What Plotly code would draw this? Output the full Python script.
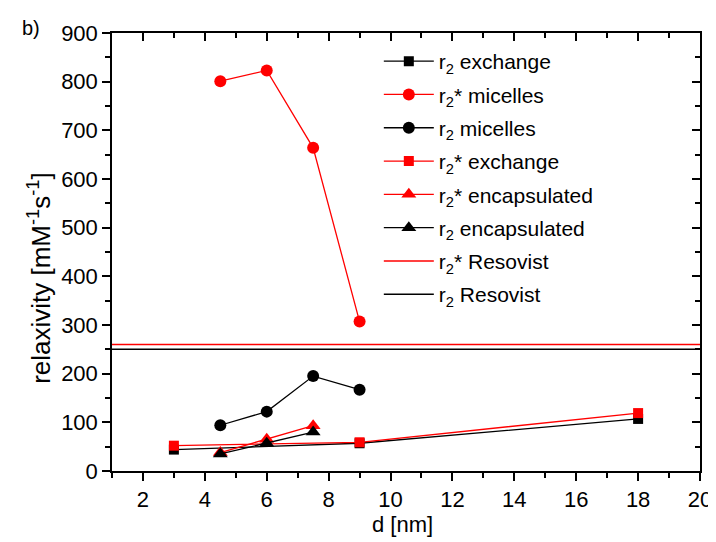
import plotly.graph_objects as go

# ---- data ----
d_exchange = [3, 9, 18]
r2_exchange = [44, 57, 107]
r2s_exchange = [52, 59, 119]

d_micelles = [4.5, 6, 7.5, 9]
r2_micelles = [94, 122, 195, 167]
r2s_micelles = [801, 823, 664, 307]

d_encaps = [4.5, 6, 7.5]
r2_encaps = [35, 57, 80]
r2s_encaps = [38, 65, 93]

d_resovist = [1, 20]
r2_resovist = [250, 250]
r2s_resovist = [260, 260]

x_ticks = [2, 4, 6, 8, 10, 12, 14, 16, 18, 20]
y_ticks = [0, 100, 200, 300, 400, 500, 600, 700, 800, 900]

RED = "#ff0000"
BLACK = "#000000"
FONT = "Liberation Sans, Arial, sans-serif"
TICKSIZE = 22

fig = go.Figure()

def add(x, y, name, color, symbol, size, mode="lines+markers", width=1.3, grp="g"):
    fig.add_trace(go.Scatter(
        x=x, y=y, name=name, mode=mode,
        line=dict(color=color, width=width),
        marker=dict(symbol=symbol, size=size, color=color, line=dict(width=0)),
        legendgroup=grp,
    ))

add(d_exchange, r2_exchange, "r<sub>2</sub> exchange", BLACK, "square", 10, grp="a")
add(d_micelles, r2s_micelles, "r<sub>2</sub>* micelles", RED, "circle", 12, grp="b")
add(d_micelles, r2_micelles, "r<sub>2</sub> micelles", BLACK, "circle", 12, grp="c")
add(d_exchange, r2s_exchange, "r<sub>2</sub>* exchange", RED, "square", 10, grp="d")
add(d_encaps, r2s_encaps, "r<sub>2</sub>* encapsulated", RED, "triangle-up", 13, grp="e")
add(d_encaps, r2_encaps, "r<sub>2</sub> encapsulated", BLACK, "triangle-up", 13, grp="f")
add(d_resovist, r2s_resovist, "r<sub>2</sub>* Resovist", RED, "circle", 1, mode="lines", width=1.5, grp="g")
add(d_resovist, r2_resovist, "r<sub>2</sub> Resovist", BLACK, "circle", 1, mode="lines", width=1.5, grp="h")

# invisible trace to anchor mirrored (top/right) axes
fig.add_trace(go.Scatter(x=[None], y=[None], xaxis="x2", yaxis="y2",
                         showlegend=False, hoverinfo="skip"))

common = dict(showgrid=False, zeroline=False, showline=True, linecolor="black",
              linewidth=1.5, tickcolor="black", tickwidth=1.5,
              tickfont=dict(family=FONT, size=TICKSIZE, color="black"))

L, T, W, H = 104, 25, 595, 438

def px_x(p):
    return (p - L) / W

def px_y(p):
    return 1 - (p - T) / H

fig.update_layout(
    width=716, height=542,
    margin=dict(l=L, r=716 - L - W, t=T, b=542 - T - H),
    paper_bgcolor="white", plot_bgcolor="white",
    font=dict(family=FONT, size=TICKSIZE, color="black"),
    showlegend=True,
    legend=dict(x=px_x(374), y=px_y(33), xanchor="left", yanchor="top",
                bgcolor="rgba(0,0,0,0)", font=dict(family=FONT, size=21, color="black"),
                itemwidth=50, tracegroupgap=3, traceorder="grouped"),
    xaxis=dict(range=[1, 20], tickvals=x_ticks, ticks="outside", ticklen=8,
               minor=dict(dtick=1, tick0=1, ticks="outside", ticklen=5, tickcolor="black", tickwidth=1.5),
               **common),
    yaxis=dict(range=[0, 900], tickvals=y_ticks, ticks="outside", ticklen=8,
               minor=dict(dtick=50, tick0=0, ticks="outside", ticklen=5, tickcolor="black", tickwidth=1.5),
               **common),
    xaxis2=dict(overlaying="x", side="top", range=[1, 20], tickvals=x_ticks, ticks="inside", ticklen=8,
                showticklabels=False, anchor="y2",
                minor=dict(dtick=1, tick0=1, ticks="inside", ticklen=5, tickcolor="black", tickwidth=1.5),
                **common),
    yaxis2=dict(overlaying="y", side="right", range=[0, 900], tickvals=y_ticks, ticks="inside", ticklen=8,
                showticklabels=False, anchor="x2",
                minor=dict(dtick=50, tick0=0, ticks="inside", ticklen=5, tickcolor="black", tickwidth=1.5),
                **common),
    annotations=[
        dict(text="relaxivity [mM<sup>-1</sup>s<sup>-1</sup>]", textangle=-90,
             xref="paper", yref="paper", x=px_x(30), y=px_y(270),
             xanchor="center", yanchor="middle", showarrow=False,
             font=dict(family=FONT, size=26, color="black")),
        dict(text="d [nm]", xref="paper", yref="paper", x=px_x(398), y=px_y(516),
             xanchor="center", yanchor="middle", showarrow=False,
             font=dict(family=FONT, size=22, color="black")),
        dict(text="b)", xref="paper", yref="paper", x=px_x(11), y=px_y(20),
             xanchor="left", yanchor="middle", showarrow=False,
             font=dict(family=FONT, size=20, color="black")),
    ],
)

fig.write_html("out.html")
